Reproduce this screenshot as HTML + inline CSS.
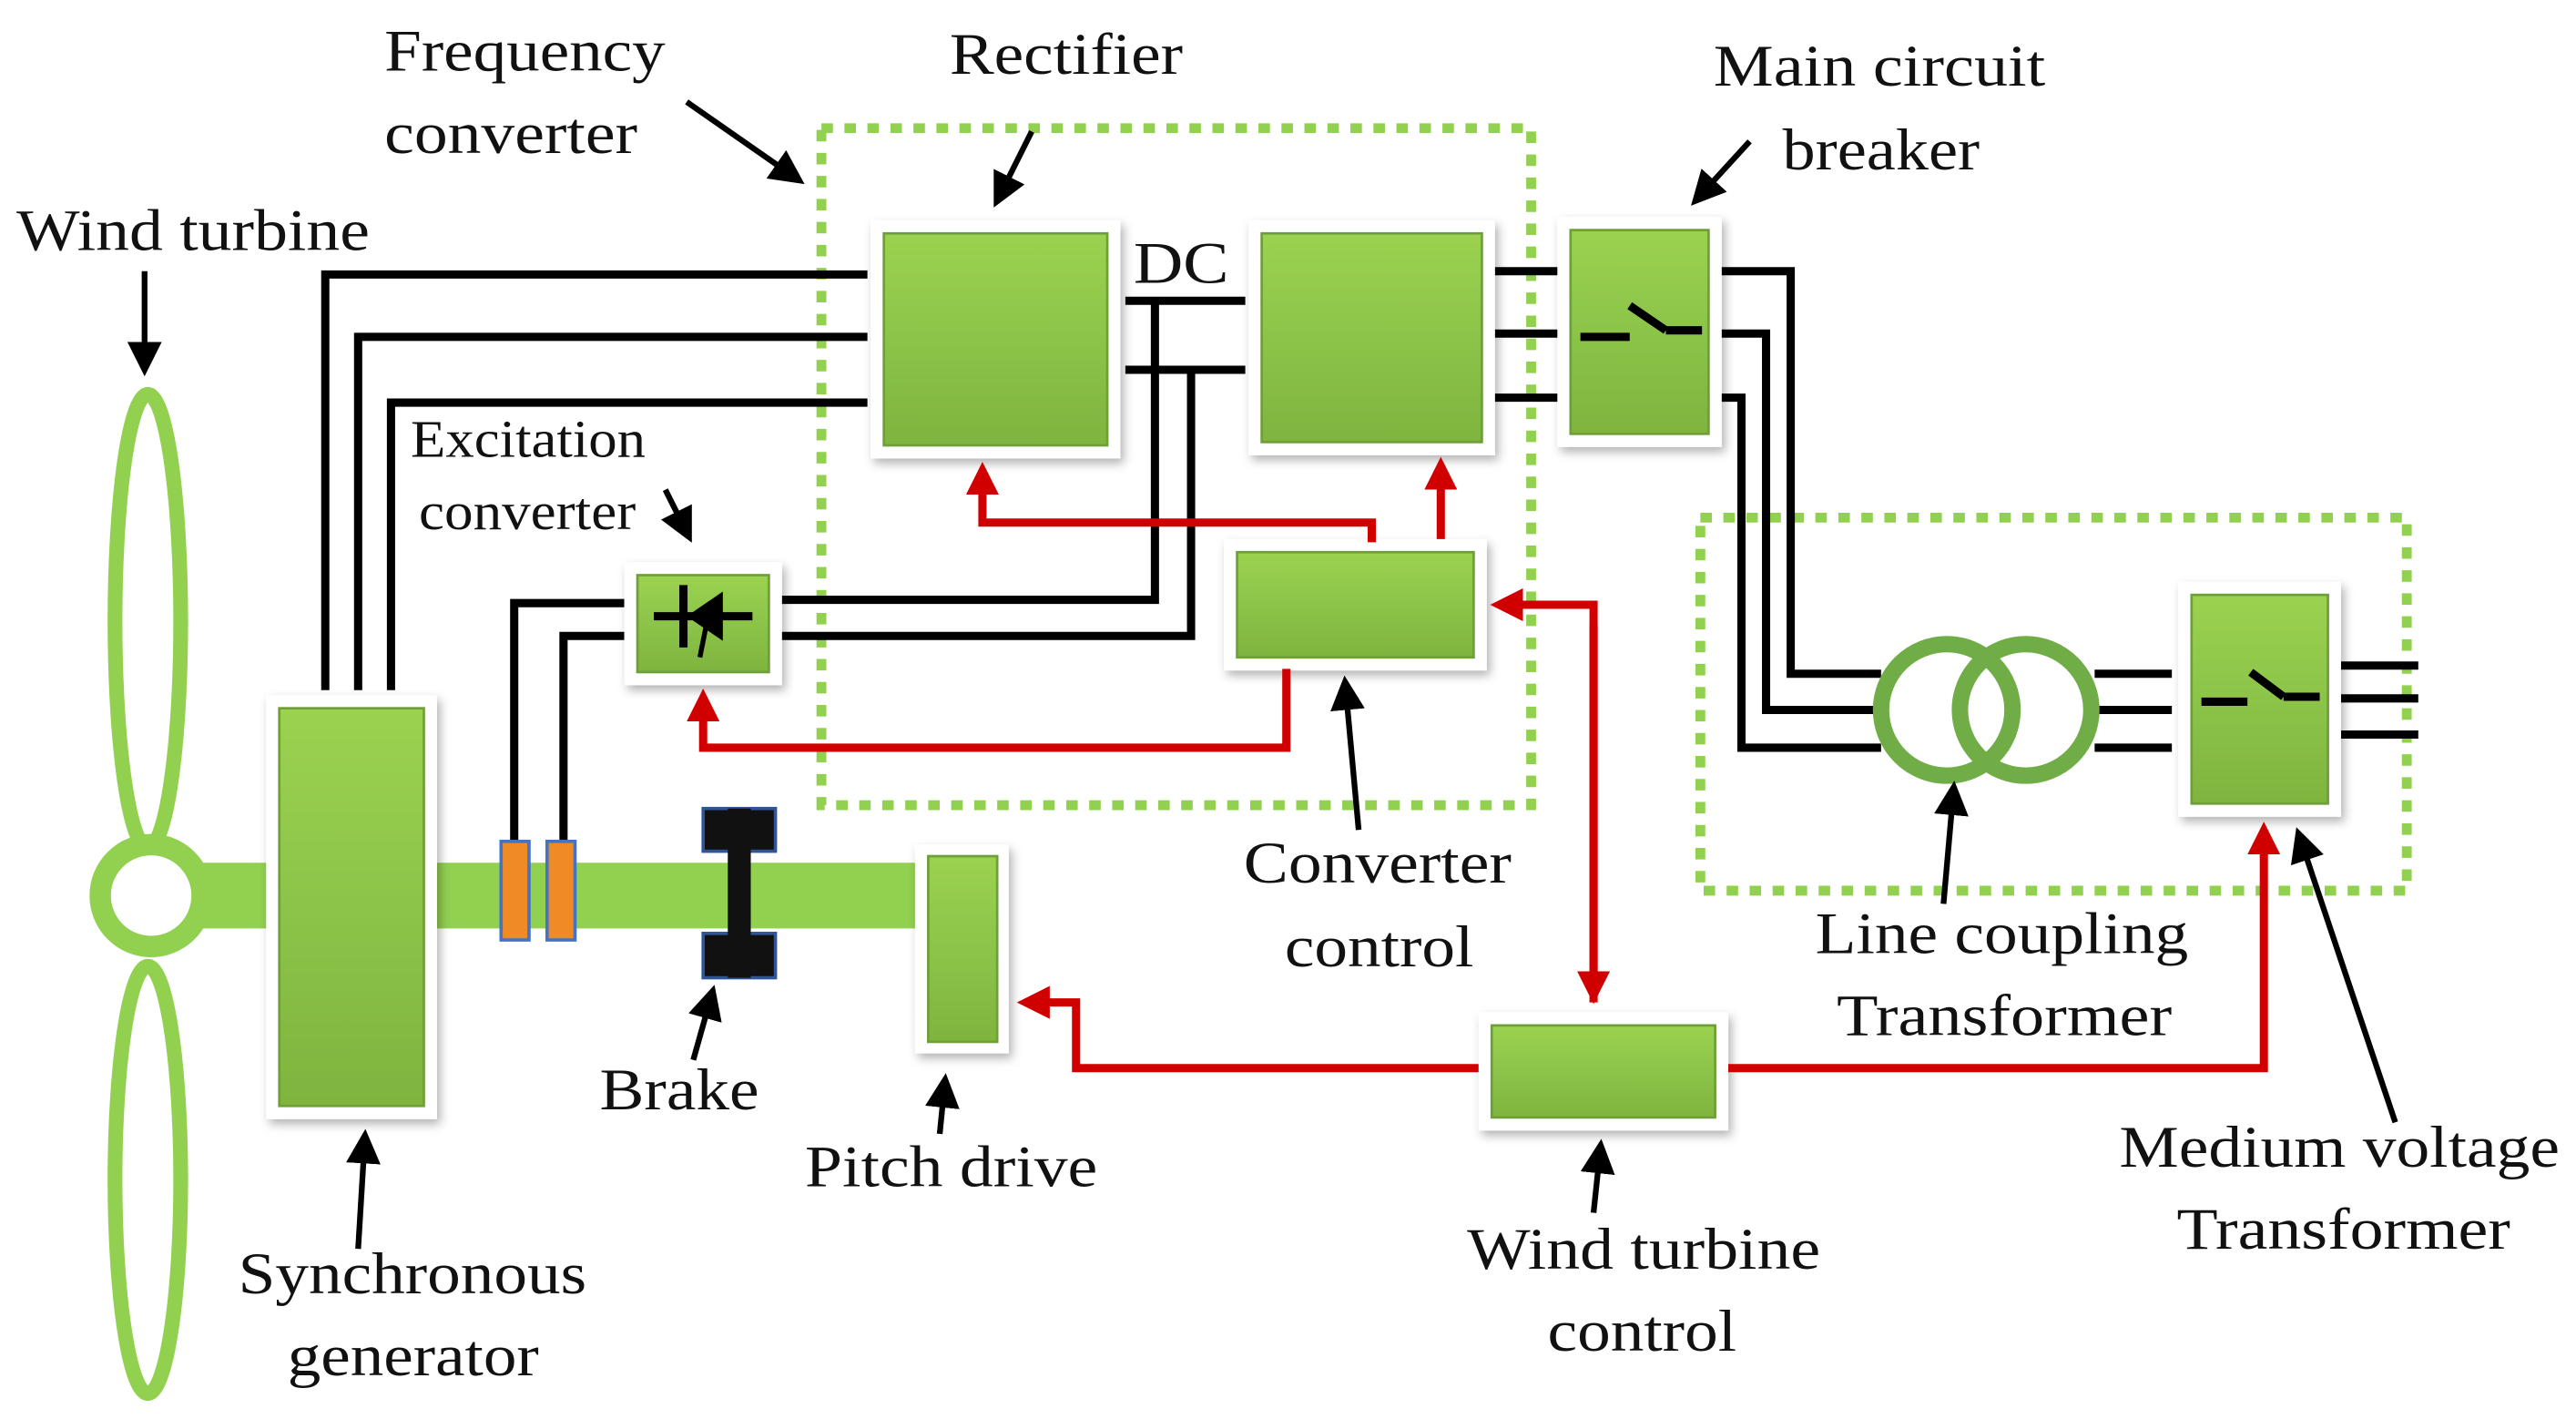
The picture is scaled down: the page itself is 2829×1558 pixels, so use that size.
<!DOCTYPE html>
<html><head><meta charset="utf-8"><style>
html,body{margin:0;padding:0;background:#fff;}
svg{display:block;}
text{font-family:"Liberation Serif","DejaVu Serif",serif;fill:#111;}
</style></head><body>
<svg width="2829" height="1558" viewBox="0 0 1568 863.5" xmlns="http://www.w3.org/2000/svg">
<defs>
<linearGradient id="g" x1="0" y1="0" x2="0" y2="1"><stop offset="0" stop-color="#9bd24f"/><stop offset="0.5" stop-color="#8cc44a"/><stop offset="1" stop-color="#7fb43e"/></linearGradient>
<marker id="ab" markerWidth="6" markerHeight="6" refX="4" refY="3" orient="auto" markerUnits="strokeWidth"><path d="M0,0 L6,3 L0,6 z" fill="#000"/></marker>
<marker id="ar" markerWidth="4" markerHeight="4" refX="3" refY="2" orient="auto" markerUnits="strokeWidth"><path d="M0,0 L4,2 L0,4 z" fill="#d00000"/></marker>
<filter id="sh" x="-20%" y="-20%" width="140%" height="140%"><feDropShadow dx="2" dy="3" stdDeviation="3" flood-color="#000" flood-opacity="0.3"/></filter>
</defs>

<rect x="500" y="78" width="432" height="412" fill="none" stroke="#92d050" stroke-width="6" stroke-dasharray="7 7"/>
<rect x="1035" y="315" width="430" height="227" fill="none" stroke="#92d050" stroke-width="6" stroke-dasharray="7 7"/>

<ellipse cx="90" cy="378" rx="20" ry="138" fill="none" stroke="#92d050" stroke-width="9"/>
<ellipse cx="90" cy="718" rx="20" ry="130" fill="none" stroke="#92d050" stroke-width="9"/>
<rect x="115" y="525" width="442" height="40" fill="#92d050"/>
<circle cx="92" cy="545" r="31" fill="#fff" stroke="#92d050" stroke-width="13"/>

<g stroke="#000" stroke-width="5" fill="none">
<polyline points="198,420 198,167 528,167"/>
<polyline points="218,420 218,205 528,205"/>
<polyline points="238,420 238,245 528,245"/>
<line x1="685" y1="183" x2="758" y2="183"/>
<line x1="685" y1="225" x2="758" y2="225"/>
<polyline points="703,183 703,365 475,365"/>
<polyline points="725,225 725,387 475,387"/>
<polyline points="380,367 313,367 313,512"/>
<polyline points="380,387 343,387 343,512"/>
<line x1="908" y1="165" x2="948" y2="165"/>
<line x1="908" y1="203" x2="948" y2="203"/>
<line x1="908" y1="242" x2="948" y2="242"/>
<polyline points="1047,165 1090,165 1090,410 1145,410"/>
<polyline points="1047,203 1075,203 1075,432 1145,432"/>
<polyline points="1047,242 1060,242 1060,455 1145,455"/>
<line x1="1275" y1="410" x2="1322" y2="410"/>
<line x1="1275" y1="432" x2="1322" y2="432"/>
<line x1="1275" y1="455" x2="1322" y2="455"/>
<line x1="1424" y1="405" x2="1472" y2="405"/>
<line x1="1424" y1="425" x2="1472" y2="425"/>
<line x1="1424" y1="447" x2="1472" y2="447"/>
</g>

<circle cx="1185" cy="432" r="40" fill="none" stroke="#70ad47" stroke-width="10"/>
<circle cx="1233" cy="432" r="40" fill="none" stroke="#70ad47" stroke-width="10"/>

<rect x="305" y="512" width="17" height="60" fill="#f08a24" stroke="#4472c4" stroke-width="2"/>
<rect x="333" y="512" width="17" height="60" fill="#f08a24" stroke="#4472c4" stroke-width="2"/>
<rect x="428" y="492" width="44" height="26" fill="#111" stroke="#2f5597" stroke-width="2"/>
<rect x="428" y="568" width="44" height="27" fill="#111" stroke="#2f5597" stroke-width="2"/>
<rect x="443" y="492" width="14" height="103" fill="#111"/>

<g filter="url(#sh)">
<rect x="162" y="423" width="104" height="258" fill="#fff"/>
<rect x="557" y="514" width="57" height="127" fill="#fff"/>
<rect x="530" y="134" width="152" height="145" fill="#fff"/>
<rect x="760" y="134" width="150" height="143" fill="#fff"/>
<rect x="948" y="132" width="100" height="140" fill="#fff"/>
<rect x="745" y="328" width="160" height="80" fill="#fff"/>
<rect x="380" y="342" width="96" height="75" fill="#fff"/>
<rect x="900" y="616" width="152" height="72" fill="#fff"/>
<rect x="1326" y="354" width="99" height="143" fill="#fff"/>
</g>
<g fill="url(#g)" stroke="#6e9f38" stroke-width="1.5">
<rect x="170" y="431" width="88" height="242"/>
<rect x="565" y="521" width="42" height="113"/>
<rect x="538" y="142" width="136" height="129"/>
<rect x="768" y="142" width="134" height="127"/>
<rect x="956" y="140" width="84" height="124"/>
<rect x="753" y="336" width="144" height="64"/>
<rect x="388" y="350" width="80" height="59"/>
<rect x="908" y="624" width="136" height="56"/>
<rect x="1334" y="362" width="83" height="127"/>
</g>

<g stroke="#000" stroke-width="5" fill="none">
<polyline points="962,205 992,205"/><line x1="992" y1="186" x2="1014" y2="201"/><line x1="1014" y1="201" x2="1036" y2="201"/>
<polyline points="1340,427 1368,427"/><line x1="1370" y1="409" x2="1390" y2="424"/><line x1="1390" y1="424" x2="1412" y2="424"/>
<line x1="398" y1="375" x2="458" y2="375"/><line x1="416" y1="356" x2="416" y2="394"/>
</g>
<path d="M418,375 L440,360 L440,390 z" fill="#000"/>
<line x1="430" y1="380" x2="426" y2="400" stroke="#000" stroke-width="3"/>

<g stroke="#d00000" stroke-width="5" fill="none">
<polyline points="835,330 835,318 598,318 598,286" marker-end="url(#ar)"/>
<line x1="877" y1="328" x2="877" y2="283" marker-end="url(#ar)"/>
<polyline points="783,407 783,455 428,455 428,424" marker-end="url(#ar)"/>
<polyline points="970,610 970,368 912,368" marker-end="url(#ar)"/>
<line x1="970" y1="380" x2="970" y2="606" marker-end="url(#ar)"/>
<polyline points="900,650 655,650 655,610 624,610" marker-end="url(#ar)"/>
<polyline points="1052,650 1378,650 1378,505" marker-end="url(#ar)"/>
</g>

<g stroke="#000" stroke-width="3.5" marker-end="url(#ab)">
<line x1="88" y1="165" x2="88" y2="222"/>
<line x1="418" y1="62" x2="484" y2="108"/>
<line x1="628" y1="80" x2="608" y2="120"/>
<line x1="1065" y1="86" x2="1034" y2="120"/>
<line x1="405" y1="298" x2="418" y2="324"/>
<line x1="827" y1="505" x2="819" y2="418"/>
<line x1="422" y1="645" x2="433" y2="606"/>
<line x1="572" y1="690" x2="575" y2="660"/>
<line x1="218" y1="760" x2="222" y2="694"/>
<line x1="970" y1="738" x2="974" y2="700"/>
<line x1="1183" y1="550" x2="1189" y2="482"/>
<line x1="1458" y1="683" x2="1400" y2="510"/>
</g>

<g font-size="36" lengthAdjust="spacingAndGlyphs">
<text x="10" y="152" textLength="215" lengthAdjust="spacingAndGlyphs">Wind turbine</text>
<text x="234" y="43" textLength="171" lengthAdjust="spacingAndGlyphs">Frequency</text>
<text x="234" y="93" textLength="154" lengthAdjust="spacingAndGlyphs">converter</text>
<text x="578" y="45" textLength="142" lengthAdjust="spacingAndGlyphs">Rectifier</text>
<text x="1043" y="52" textLength="202" lengthAdjust="spacingAndGlyphs">Main circuit</text>
<text x="1085" y="103" textLength="120" lengthAdjust="spacingAndGlyphs">breaker</text>
<text x="690" y="172" textLength="58" lengthAdjust="spacingAndGlyphs">DC</text>
<text x="757" y="537" textLength="163" lengthAdjust="spacingAndGlyphs">Converter</text>
<text x="782" y="588" textLength="115" lengthAdjust="spacingAndGlyphs">control</text>
<text x="365" y="675" textLength="97" lengthAdjust="spacingAndGlyphs">Brake</text>
<text x="490" y="722" textLength="178" lengthAdjust="spacingAndGlyphs">Pitch drive</text>
<text x="145" y="787" textLength="212" lengthAdjust="spacingAndGlyphs">Synchronous</text>
<text x="175" y="837" textLength="153" lengthAdjust="spacingAndGlyphs">generator</text>
<text x="893" y="772" textLength="215" lengthAdjust="spacingAndGlyphs">Wind turbine</text>
<text x="942" y="822" textLength="115" lengthAdjust="spacingAndGlyphs">control</text>
<text x="1105" y="580" textLength="227" lengthAdjust="spacingAndGlyphs">Line coupling</text>
<text x="1118" y="630" textLength="204" lengthAdjust="spacingAndGlyphs">Transformer</text>
<text x="1290" y="710" textLength="268" lengthAdjust="spacingAndGlyphs">Medium voltage</text>
<text x="1325" y="760" textLength="203" lengthAdjust="spacingAndGlyphs">Transformer</text>
</g>
<g font-size="32">
<text x="250" y="278" textLength="143" lengthAdjust="spacingAndGlyphs">Excitation</text>
<text x="255" y="322" textLength="132" lengthAdjust="spacingAndGlyphs">converter</text>
</g>
</svg>
</body></html>
